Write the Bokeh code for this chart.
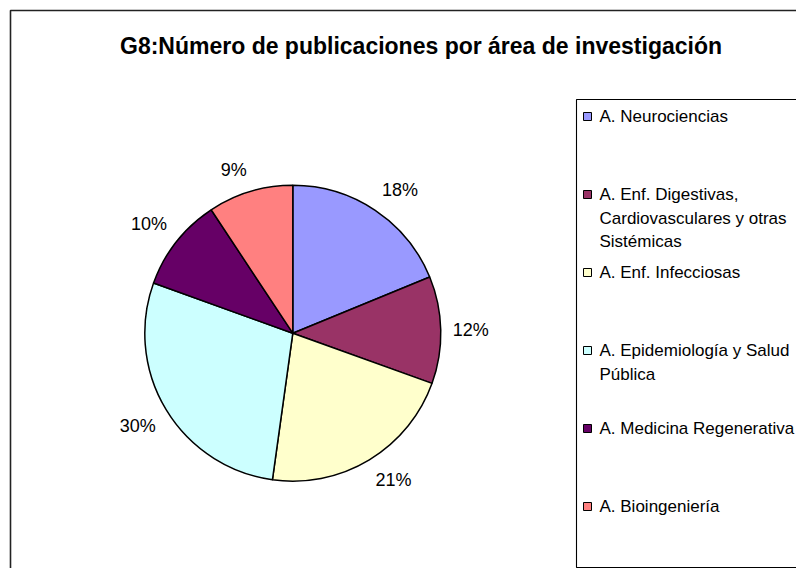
import math
from bokeh.plotting import figure
from bokeh.models import ColumnDataSource, Range1d
from bokeh.core.properties import value
from bokeh.embed import file_html
from bokeh.resources import INLINE

# ---------------- data ----------------
title = "G8:Número de publicaciones por área de investigación"
categories = [
    "A. Neurociencias",
    "A. Enf. Digestivas,\nCardiovasculares y otras\nSistémicas",
    "A. Enf. Infecciosas",
    "A. Epidemiología y Salud\nPública",
    "A. Medicina Regenerativa",
    "A. Bioingeniería",
]
# slice shares as drawn (%)
shares = [18.8, 11.7, 21.7, 28.3, 10.2, 9.3]
# percentage labels as printed on the chart
pct_labels = ["18%", "12%", "21%", "30%", "10%", "9%"]
colors = ["#9999FF", "#993366", "#FFFFCC", "#CCFFFF", "#660066", "#FF8080"]

# ---------------- layout ----------------
W, H = 796, 568
FONT = "Liberation Sans"


def px(x):
    return x


def py(y):
    return H - y


p = figure(width=W, height=H, x_range=Range1d(0, W), y_range=Range1d(0, H),
           output_backend="svg", toolbar_location=None, min_border=0,
           x_axis_location=None, y_axis_location=None)
p.grid.visible = False
p.outline_line_color = None
p.background_fill_color = "white"
p.border_fill_color = "white"

# chart area border (left and top visible; the rest is cut off)
p.line(x=[px(10), px(10), W + 10], y=[-10, py(10), py(10)],
       line_color="#222222", line_width=1.6)

# title
p.text(x=[px(420.5)], y=[py(45)], text=[title], text_align="center",
       text_baseline="middle", text_font=value(FONT), text_font_style="bold",
       text_font_size="23px", text_color="black")

# pie
cx, cy, R = px(292.3), py(332.7), 148
total = sum(shares)
starts, ends, mids = [], [], []
cum = 0.0
for s in shares:
    a0 = math.pi / 2 - 2 * math.pi * cum / total
    cum += s
    a1 = math.pi / 2 - 2 * math.pi * cum / total
    starts.append(a0)
    ends.append(a1)
    mids.append((a0 + a1) / 2)

src = ColumnDataSource(dict(start=starts, end=ends, color=colors))
p.wedge(x=cx, y=cy, radius=R, start_angle="start", end_angle="end",
        direction="clock", fill_color="color", line_color="black",
        line_width=1.5, source=src)

# percentage labels outside the slices
RL = 160
lx, ly, la, lb = [], [], [], []
for m in mids:
    c, s = math.cos(m), math.sin(m)
    lx.append(cx + RL * c)
    ly.append(cy + RL * s)
    la.append("left" if c > 0.15 else ("right" if c < -0.15 else "center"))
    lb.append("bottom" if s > 0.3 else ("top" if s < -0.3 else "middle"))
lsrc = ColumnDataSource(dict(x=lx, y=ly, text=pct_labels, align=la, base=lb))
p.text(x="x", y="y", text="text", text_align="align", text_baseline="base",
       text_font=value(FONT), text_font_size="18px", text_color="black",
       source=lsrc)

# legend box (right side cut off)
LX, LT, LB = px(576), py(99), py(567)
p.line(x=[W + 10, LX, LX, W + 10], y=[LT, LT, LB, LB],
       line_color="black", line_width=1.1)

first_y, step, line_h = 116, 78, 23.5
kx, ky, tx, ty, tt = [], [], [], [], []
for i, cat in enumerate(categories):
    y0 = first_y + step * i
    kx.append(px(587))
    ky.append(py(y0))
    for j, line in enumerate(cat.split("\n")):
        tx.append(px(599))
        ty.append(py(y0 + j * line_h))
        tt.append(line)

p.rect(x=kx, y=ky, width=8, height=8, fill_color=colors,
       line_color="black", line_width=1)
p.text(x=tx, y=ty, text=tt, text_align="left", text_baseline="middle",
       text_font=value(FONT), text_font_size="17px", text_color="black")

open("out.html", "w").write(file_html(p, INLINE))
